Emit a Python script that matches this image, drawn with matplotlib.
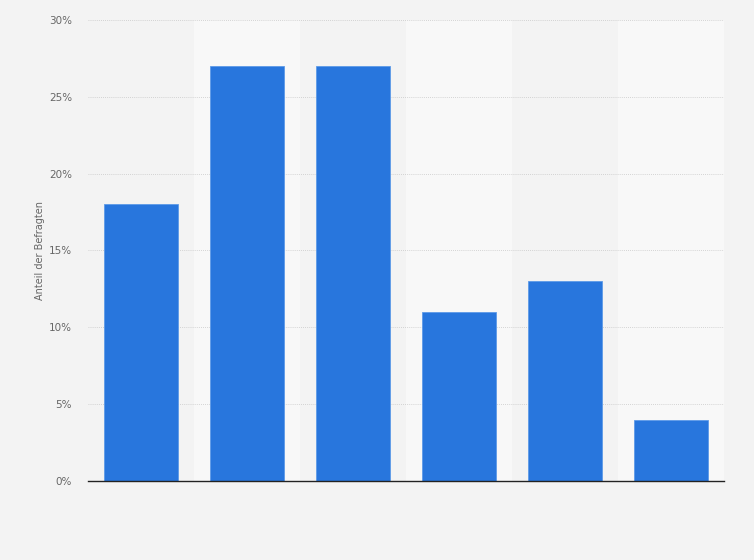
import numpy as np
import matplotlib.pyplot as plt

values = [18, 27, 27, 11, 13, 4]
yticks = [0, 5, 10, 15, 20, 25, 30]
ytick_labels = ['0%', '5%', '10%', '15%', '20%', '25%', '30%']

fig = plt.figure(figsize=(7.54, 5.6), dpi=100, facecolor='#f3f3f3')
ax = fig.add_axes([0.1167, 0.1411, 0.8435, 0.8232])
ax.set_facecolor('#f3f3f3')

x = np.arange(len(values))

# alternating column shading
for i in x:
    if i % 2 == 1:
        ax.axvspan(i - 0.5, i + 0.5, color='#f8f8f8', zorder=0, lw=0)

ax.bar(x, values, width=0.69, color='#2876dd', edgecolor='#5d9ae8', linewidth=0.6, zorder=3)

ax.set_xlim(-0.5, len(values) - 0.5)
ax.set_ylim(0, 30)
ax.set_yticks(yticks)
ax.set_yticklabels(ytick_labels, fontsize=7.5, color='#666666')
ax.set_xticks([])
ax.grid(axis='y', linestyle=(0, (1, 1.5)), linewidth=0.6, color='#c8c8c8', zorder=1)
ax.tick_params(axis='y', length=0, pad=11.5)

for s in ['top', 'right', 'left']:
    ax.spines[s].set_visible(False)
ax.spines['bottom'].set_color('#222222')
ax.spines['bottom'].set_linewidth(1.0)
ax.spines['bottom'].set_zorder(4)

ax.set_ylabel('Anteil der Befragten', fontsize=7, color='#666666', labelpad=2.5)

plt.savefig('out.png', dpi=100, facecolor=fig.get_facecolor())
